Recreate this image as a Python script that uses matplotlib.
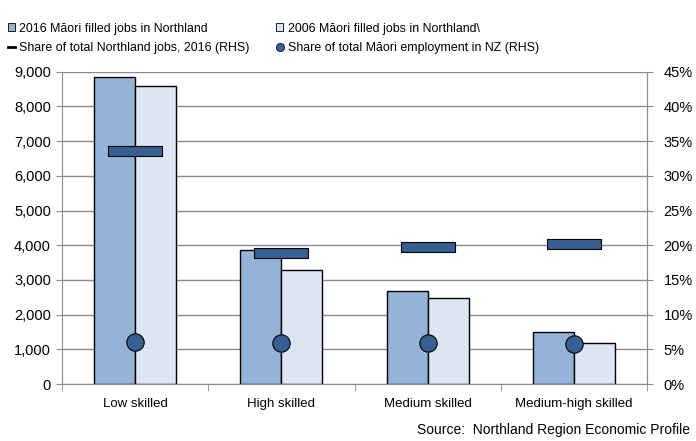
import matplotlib.pyplot as plt
from matplotlib.lines import Line2D
from matplotlib.patches import Patch
from matplotlib.ticker import FuncFormatter, MultipleLocator, FixedLocator
import numpy as np

plt.rcParams['font.family'] = ['Liberation Sans', 'DejaVu Sans']

CATEGORIES = ["Low skilled", "High skilled", "Medium skilled", "Medium-high skilled"]
JOBS_2016 = [8850, 3870, 2680, 1510]
JOBS_2006 = [8580, 3290, 2470, 1170]
SHARE_NORTHLAND = [33.6, 18.9, 19.7, 20.2]     # % (RHS)
SHARE_MAORI_NZ = [6.1, 5.9, 5.9, 5.75]         # % (RHS)

C2016 = "#95b3d7"
C2006 = "#dce6f2"
CMARK = "#376092"
GRID = "#8c8c8c"

fig = plt.figure(figsize=(6.96, 4.41), dpi=100)
ax = fig.add_axes([62 / 696, 57 / 441, 585 / 696, 312.3 / 441])

x = np.arange(len(CATEGORIES))
w = 0.28
ax.bar(x - w / 2, JOBS_2016, w, color=C2016, edgecolor="black", linewidth=1, zorder=2)
ax.bar(x + w / 2, JOBS_2006, w, color=C2006, edgecolor="black", linewidth=1, zorder=2)

ax.set_xlim(-0.5, len(CATEGORIES) - 0.5)
ax.set_ylim(0, 9000)
ax.yaxis.set_major_locator(MultipleLocator(1000))
ax.yaxis.set_major_formatter(FuncFormatter(lambda v, p: f"{int(v):,}"))
ax.grid(axis="y", color=GRID, linewidth=1, zorder=0)
ax.set_axisbelow(True)

ax.set_xticks(x)
ax.set_xticklabels(CATEGORIES, fontsize=9.5)
ax.tick_params(axis="x", which="major", length=0, pad=10)
ax.xaxis.set_minor_locator(FixedLocator(np.arange(-0.5, len(CATEGORIES), 1)))
ax.tick_params(axis="x", which="minor", length=5, color=GRID)
ax.tick_params(axis="y", length=4, color=GRID, labelsize=10.5, pad=4)

for s in ["top"]:
    ax.spines[s].set_visible(False)
for s in ["left", "bottom", "right"]:
    ax.spines[s].set_color(GRID)

ax2 = ax.twinx()
ax2.set_ylim(0, 45)
ax2.yaxis.set_major_locator(MultipleLocator(5))
ax2.yaxis.set_major_formatter(FuncFormatter(lambda v, p: f"{int(v)}%"))
ax2.tick_params(axis="y", length=4, color=GRID, labelsize=10.5, pad=8)
for s in ["top", "left", "bottom"]:
    ax2.spines[s].set_visible(False)
ax2.spines["right"].set_color(GRID)

dash = [(-3, -0.5), (3, -0.5), (3, 0.5), (-3, 0.5), (-3, -0.5)]
ax2.plot(x, SHARE_NORTHLAND, linestyle="none", marker=dash, markersize=39,
         markerfacecolor=CMARK, markeredgecolor="black", markeredgewidth=0.8, zorder=3)
ax2.plot(x, SHARE_MAORI_NZ, linestyle="none", marker="o", markersize=12.5,
         markerfacecolor=CMARK, markeredgecolor="black", markeredgewidth=0.8, zorder=3)

handles = [
    Patch(facecolor=C2016, edgecolor="black", linewidth=0.6),
    Line2D([0], [0], color="black", linewidth=2),
    Patch(facecolor=C2006, edgecolor="black", linewidth=0.6),
    Line2D([0], [0], linestyle="none", marker="o", markersize=6,
           markerfacecolor=CMARK, markeredgecolor="black", markeredgewidth=0.5),
]
labels = [
    "2016 Māori filled jobs in Northland",
    "Share of total Northland jobs, 2016 (RHS)",
    "2006 Māori filled jobs in Northland\\",
    "Share of total Māori employment in NZ (RHS)",
]
fig.legend(handles, labels, ncol=2, loc="upper left", bbox_to_anchor=(0.004, 0.96),
           frameon=False, fontsize=8.9, handlelength=0.6, handleheight=0.6,
           handletextpad=0.35, columnspacing=2.1, labelspacing=0.6, borderaxespad=0)

fig.text(0.992, 0.008, "Source:  Northland Region Economic Profile",
         ha="right", va="bottom", fontsize=10)

fig.savefig("out.png", dpi=100)
